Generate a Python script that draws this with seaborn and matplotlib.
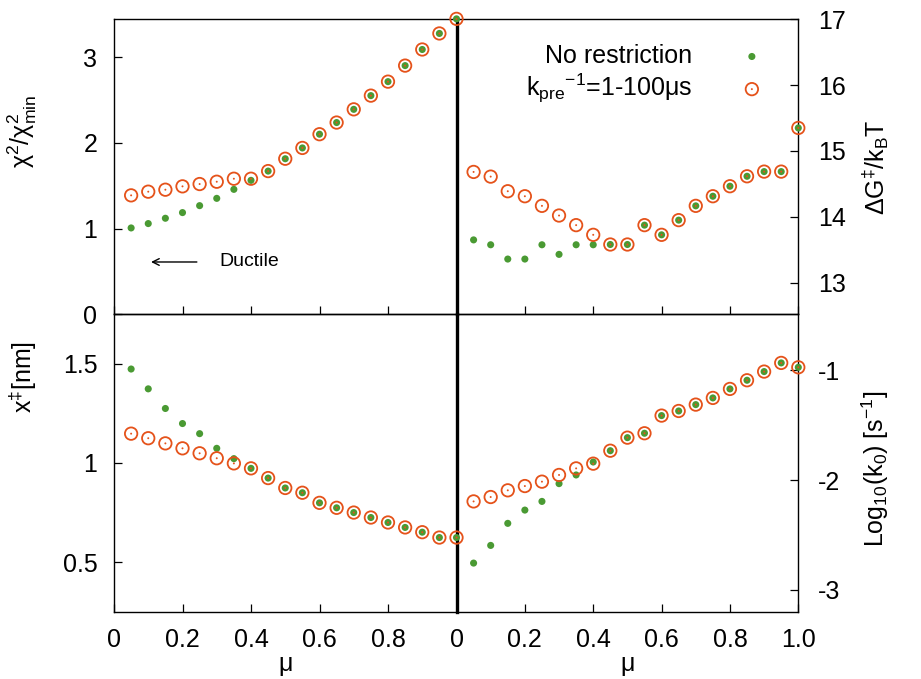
import numpy as np
import pandas as pd
import matplotlib
matplotlib.use("Agg")
import matplotlib.pyplot as plt
import seaborn as sns

# ---------------- data ----------------
mu = [0.05, 0.10, 0.15, 0.20, 0.25, 0.30, 0.35, 0.40, 0.45, 0.50,
      0.55, 0.60, 0.65, 0.70, 0.75, 0.80, 0.85, 0.90, 0.95, 1.00]

chi2_free = [1.007, 1.058, 1.120, 1.186, 1.267, 1.352, 1.457, 1.562, 1.670, 1.814,
             1.940, 2.100, 2.236, 2.390, 2.550, 2.713, 2.900, 3.088, 3.275, 3.445]
chi2_restr = [1.387, 1.430, 1.453, 1.492, 1.519, 1.546, 1.581, 1.581, 1.670, 1.814,
              1.940, 2.100, 2.236, 2.390, 2.550, 2.713, 2.900, 3.088, 3.275, 3.445]

dG_free = [13.65, 13.576, 13.359, 13.359, 13.576, 13.43, 13.576, 13.576, 13.58, 13.58,
           13.874, 13.727, 13.95, 14.167, 14.313, 14.465, 14.616, 14.687, 14.687, 15.35]
dG_restr = [14.682, 14.611, 14.389, 14.313, 14.167, 14.02, 13.874, 13.727, 13.58, 13.58,
            13.874, 13.727, 13.95, 14.167, 14.313, 14.465, 14.616, 14.687, 14.687, 15.35]

xts_free = [1.474, 1.374, 1.275, 1.199, 1.148, 1.074, 1.022, 0.973, 0.924, 0.874,
            0.850, 0.799, 0.774, 0.750, 0.725, 0.700, 0.675, 0.651, 0.624, 0.624]
xts_restr = [1.148, 1.125, 1.099, 1.074, 1.049, 1.024, 0.998, 0.973, 0.924, 0.874,
             0.850, 0.799, 0.774, 0.750, 0.725, 0.700, 0.675, 0.651, 0.624, 0.624]

logk_free = [-2.757, -2.596, -2.395, -2.274, -2.195, -2.033, -1.954, -1.836, -1.733, -1.614,
             -1.574, -1.413, -1.371, -1.313, -1.252, -1.170, -1.091, -1.012, -0.933, -0.973]
logk_restr = [-2.195, -2.155, -2.094, -2.055, -2.015, -1.954, -1.894, -1.851, -1.733, -1.614,
              -1.574, -1.413, -1.371, -1.313, -1.252, -1.170, -1.091, -1.012, -0.933, -0.973]

series_labels = ["No restriction", "k$_{pre}$$^{-1}$=1-100μs"]

left_xticks = [0, 0.2, 0.4, 0.6, 0.8, 1.0]
left_xticklabels = ["0", "0.2", "0.4", "0.6", "0.8", ""]
right_xticks = [0, 0.2, 0.4, 0.6, 0.8, 1.0]
right_xticklabels = ["0", "0.2", "0.4", "0.6", "0.8", "1.0"]
chi_yticks = [0, 1, 2, 3]
chi_yticklabels = ["0", "1", "2", "3"]
dG_yticks = [13, 14, 15, 16, 17]
dG_yticklabels = ["13", "14", "15", "16", "17"]
xts_yticks = [0.5, 1.0, 1.5]
xts_yticklabels = ["0.5", "1", "1.5"]
logk_yticks = [-3, -2, -1]
logk_yticklabels = ["-3", "-2", "-1"]

GREEN = "#4a9a33"
ORANGE = "#e5521a"
FS = 18

# ---------------- style ----------------
sns.set_theme(style="ticks")
plt.rcParams.update({
    "font.family": ["Liberation Sans", "DejaVu Sans"],
    "mathtext.fontset": "custom",
    "mathtext.rm": "Liberation Sans",
    "mathtext.it": "Liberation Sans",
    "mathtext.default": "regular",
    "axes.edgecolor": "black",
    "axes.linewidth": 1.0,
    "xtick.direction": "in",
    "ytick.direction": "in",
    "xtick.color": "black",
    "ytick.color": "black",
    "xtick.major.size": 5.5,
    "ytick.major.size": 5.5,
    "xtick.major.width": 0.9,
    "ytick.major.width": 0.9,
    "axes.labelcolor": "black",
    "text.color": "black",
})

fig = plt.figure(figsize=(9.21, 6.79), dpi=100)
W, H = 921.0, 679.0
xl0, xm, xr1 = 114.0, 456.5, 798.3
yt0, ymid, yb1 = 19.3, 314.3, 611.7


def rect(x0, x1, ytop, ybot):
    return [x0 / W, 1 - ybot / H, (x1 - x0) / W, (ybot - ytop) / H]


ax_tr = fig.add_axes(rect(xm, xr1, yt0, ymid))
ax_br = fig.add_axes(rect(xm, xr1, ymid, yb1))
ax_tl = fig.add_axes(rect(xl0, xm, yt0, ymid))
ax_bl = fig.add_axes(rect(xl0, xm, ymid, yb1))
for ax in (ax_tl, ax_tr, ax_bl, ax_br):
    ax.patch.set_visible(False)


def draw(ax, y_free, y_restr):
    df = pd.DataFrame({"mu": mu, "free": y_free, "restr": y_restr})
    sns.scatterplot(data=df, x="mu", y="free", ax=ax, color=GREEN, s=26,
                    edgecolor="none", linewidth=0, clip_on=False, zorder=3,
                    legend=False)
    sns.scatterplot(data=df, x="mu", y="restr", ax=ax, color=ORANGE, s=80,
                    facecolor="none", edgecolor=ORANGE, linewidth=1.3,
                    clip_on=False, zorder=4, legend=False)
    sns.scatterplot(data=df, x="mu", y="restr", ax=ax, color=ORANGE, s=2,
                    edgecolor="none", linewidth=0, clip_on=False, zorder=5,
                    legend=False)
    colls = ax.collections[-3:]
    ax.set_xlim(0, 1)
    ax.set_xlabel("")
    ax.set_ylabel("")
    return colls


draw(ax_tl, chi2_free, chi2_restr)
colls_tr = draw(ax_tr, dG_free, dG_restr)
draw(ax_bl, xts_free, xts_restr)
draw(ax_br, logk_free, logk_restr)

ax_tl.set_ylim(0, 3.44)
ax_tr.set_ylim(12.52, 17.0)
ax_bl.set_ylim(0.25, 1.75)
ax_br.set_ylim(-3.2, -0.49)

for ax in (ax_tl, ax_bl):
    ax.set_xticks(left_xticks)
    ax.set_xticklabels(left_xticklabels)
    ax.spines["right"].set_linewidth(2.4)
    ax.spines["right"].set_zorder(2.5)
    ax.tick_params(axis="y", which="both", left=True, right=False, labelleft=True,
                   labelsize=FS, pad=12)
for ax in (ax_tr, ax_br):
    ax.set_xticks(right_xticks)
    ax.set_xticklabels(right_xticklabels)
    ax.spines["left"].set_visible(False)
    ax.yaxis.tick_right()
    ax.yaxis.set_label_position("right")
    ax.tick_params(axis="y", which="both", left=False, right=True, labelright=True,
                   labelleft=False, labelsize=FS, pad=14)

for ax in (ax_tl, ax_tr):
    ax.tick_params(axis="x", bottom=True, top=False, labelbottom=False)
for ax in (ax_bl, ax_br):
    ax.tick_params(axis="x", bottom=True, top=False, labelbottom=True,
                   labelsize=FS, pad=12)

ax_tl.set_yticks(chi_yticks)
ax_tl.set_yticklabels(chi_yticklabels)
ax_tr.set_yticks(dG_yticks)
ax_tr.set_yticklabels(dG_yticklabels)
ax_bl.set_yticks(xts_yticks)
ax_bl.set_yticklabels(xts_yticklabels)
ax_br.set_yticks(logk_yticks)
ax_br.set_yticklabels(logk_yticklabels)

# axis labels
ax_tl.set_ylabel("χ$^{2}$/χ$^{2}_{min}$", fontsize=FS)
ax_bl.set_ylabel("x$^{‡}$[nm]", fontsize=FS)
ax_tr.set_ylabel("ΔG$^{‡}$/k$_{B}$T", fontsize=FS)
ax_br.set_ylabel("Log$_{10}$(k$_{0}$) [s$^{-1}$]", fontsize=FS)
ax_tl.yaxis.set_label_coords(-0.22, 0.62)
ax_bl.yaxis.set_label_coords(-0.22, 0.79)
ax_tr.yaxis.set_label_coords(1.18, 0.50)
ax_br.yaxis.set_label_coords(1.18, 0.48)
ax_bl.set_xlabel("μ", fontsize=FS, labelpad=0)
ax_br.set_xlabel("μ", fontsize=FS, labelpad=0)

# Ductile annotation
ax_tl.annotate("", xy=(0.10, 0.61), xytext=(0.25, 0.61),
               arrowprops=dict(arrowstyle="->", color="black", lw=1.0))
ax_tl.text(0.307, 0.61, "Ductile", fontsize=14, va="center", ha="left")

# legend
leg = ax_tr.legend(handles=[colls_tr[0], (colls_tr[1], colls_tr[2])],
                   labels=series_labels, loc="upper right",
                   bbox_to_anchor=(0.93, 0.95), frameon=False, markerfirst=False,
                   fontsize=FS, handlelength=1.0, handletextpad=1.9,
                   labelspacing=0.15, borderaxespad=0)
try:
    for col in leg._legend_handle_box.get_children():
        col.align = "right"
except Exception:
    pass

fig.savefig("out.png", dpi=100)
